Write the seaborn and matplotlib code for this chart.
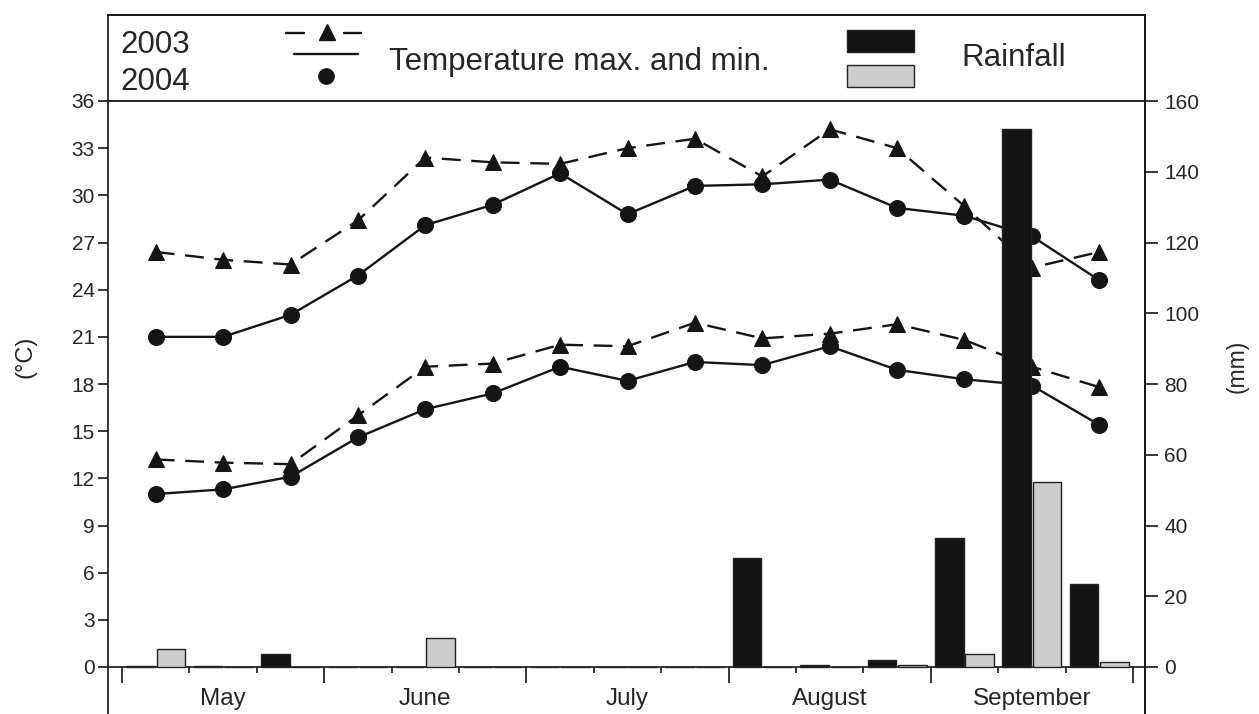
import numpy as np
import pandas as pd
import matplotlib
matplotlib.use("Agg")
import matplotlib.pyplot as plt
import seaborn as sns
from matplotlib.lines import Line2D
from matplotlib.patches import Rectangle

# ---------------- data (ten-day periods, 3 per month) ----------------
months = ["May", "June", "July", "August", "September"]
dekad = np.arange(15)
years = ["2003", "2004"]

tmax_2003 = [26.4, 25.9, 25.6, 28.4, 32.4, 32.1, 32.0, 33.0, 33.6, 31.2, 34.2, 33.0, 29.3, 25.4, 26.4]
tmax_2004 = [21.0, 21.0, 22.4, 24.9, 28.1, 29.4, 31.4, 28.8, 30.6, 30.7, 31.0, 29.2, 28.7, 27.4, 24.6]
tmin_2003 = [13.2, 13.0, 12.9, 16.0, 19.1, 19.3, 20.5, 20.4, 21.9, 20.9, 21.2, 21.8, 20.8, 19.1, 17.8]
tmin_2004 = [11.0, 11.3, 12.1, 14.6, 16.4, 17.4, 19.1, 18.2, 19.4, 19.2, 20.4, 18.9, 18.3, 17.9, 15.4]

rain_2003 = [0.4, 0.4, 3.6, 0, 0, 0, 0, 0, 0, 30.8, 0.5, 2.1, 36.5, 152.0, 23.4]
rain_2004 = [5.1, 0, 0, 0, 8.3, 0, 0, 0, 0, 0, 0, 0.5, 3.6, 52.3, 1.5]

temp_ticks = list(range(0, 37, 3))
rain_ticks = list(range(0, 161, 20))

# ---------------- styling ----------------
W, H = 1259, 714
sns.set_style("ticks")
plt.rcParams["font.family"] = ["Liberation Sans", "DejaVu Sans"]
ink = "#151515"
txt = "#262626"

fig = plt.figure(figsize=(W / 100, H / 100), dpi=100)

# axes frame in pixels (the frame continues below the bottom edge)
L, R, T, B = 108, 1145, 15, 716
ax = fig.add_axes([L / W, 1 - B / H, (R - L) / W, (B - T) / H])
ppd = (667 - 101) / 36.0
ylo = -(B - 667) / ppd
yhi = 36 + (101 - T) / ppd
ppx = (1133 - 122) / 15.0
xlo = -(122 - L) / ppx
xhi = 15 + (R - 1133) / ppx

pos = dekad + 0.5

# temperature lines
kw = dict(ax=ax, color=ink, markeredgecolor=ink, linewidth=1.7, legend=False)
sns.lineplot(x=pos, y=tmax_2003, marker="^", markersize=12, linestyle=(0, (8, 4.5)), **kw)
sns.lineplot(x=pos, y=tmin_2003, marker="^", markersize=12, linestyle=(0, (8, 4.5)), **kw)
sns.lineplot(x=pos, y=tmax_2004, marker="o", markersize=11.5, linestyle="-", **kw)
sns.lineplot(x=pos, y=tmin_2004, marker="o", markersize=11.5, linestyle="-", **kw)

ax.axhline(36, color=ink, lw=1.3, zorder=5)

# rainfall bars on the right axis
ax2 = ax.twinx()
df_rain = pd.DataFrame({
    "pos": np.concatenate([pos, pos]),
    "rain": rain_2003 + rain_2004,
    "year": [years[0]] * 15 + [years[1]] * 15,
})
sns.barplot(data=df_rain, x="pos", y="rain", hue="year", hue_order=years,
            palette={"2003": "#141414", "2004": "#cdcdcd"}, native_scale=True,
            width=0.9, gap=0.06, edgecolor="#222222", linewidth=1.0,
            errorbar=None, legend=False, ax=ax2)

# ---------------- axes ----------------
ax.set_xlim(xlo, xhi)
ax2.set_xlim(xlo, xhi)
ax.set_ylim(ylo, yhi)
ax2.set_ylim(ylo * 160 / 36, yhi * 160 / 36)

for a in (ax, ax2):
    for s in a.spines.values():
        s.set_linewidth(1.2)
        s.set_color(ink)
ax.spines["bottom"].set_position(("data", 0))
ax2.spines["bottom"].set_visible(False)
ax2.spines["left"].set_visible(False)

ax.set_yticks(temp_ticks)
ax.tick_params(axis="y", direction="out", length=7.5, width=1.2, color=ink,
               pad=2, labelsize=15, labelcolor=txt)
ax2.set_yticks(rain_ticks)
ax2.tick_params(axis="y", direction="out", length=9, width=1.2, color=ink,
                pad=5, labelsize=15, labelcolor=txt)

ax.set_xticks(np.arange(16))
ax.set_xticklabels([])
ax.set_xticks(np.arange(1.5, 15, 3), minor=True)
ax.set_xticklabels(months, minor=True)
ax.tick_params(axis="x", which="major", direction="out", length=4.5, width=1.2, color=ink)
ax.tick_params(axis="x", which="minor", length=0, pad=15, labelsize=17.5, labelcolor=txt)
for i, t in enumerate(ax.xaxis.get_major_ticks()):
    if i % 3 == 0:
        t.tick1line.set_markersize(11.5)

ax.set_xlabel("")
ax2.set_xlabel("")
ax.set_ylabel("(°C)", fontsize=17, color=txt)
ax.yaxis.set_label_coords((37 - L) / (R - L), (B - 357) / (B - T))
ax2.set_ylabel("(mm)", fontsize=16.5, color=txt, rotation=90)
ax2.yaxis.set_label_coords((1226 - L) / (R - L), (B - 366) / (B - T))

# ---------------- legend panel ----------------
def fx(x):
    return x / W

def fy(y):
    return 1 - y / H

fs_leg = 22.5
fig.text(fx(120), fy(53), "2003", fontsize=fs_leg, color=txt, ha="left", va="baseline")
fig.text(fx(120), fy(90), "2004", fontsize=fs_leg, color=txt, ha="left", va="baseline")
fig.text(fx(389), fy(70), "Temperature max. and min.", fontsize=fs_leg, color=txt,
         ha="left", va="baseline")
fig.text(fx(961), fy(66.5), "Rainfall", fontsize=fs_leg, color=txt, ha="left", va="baseline")

for xa, xb in ((286, 304), (344, 361)):
    fig.add_artist(Line2D([fx(xa), fx(xb)], [fy(33), fy(33)], color=ink, lw=1.7))
fig.add_artist(Line2D([fx(327)], [fy(32)], marker="^", markersize=12, color=ink, ls="none"))
fig.add_artist(Line2D([fx(294), fx(358)], [fy(54), fy(54)], color=ink, lw=1.7))
fig.add_artist(Line2D([fx(326)], [fy(75.5)], marker="o", markersize=11, color=ink, ls="none"))
fig.add_artist(Rectangle((fx(847), fy(51.5)), fx(914) - fx(847), fy(29.5) - fy(51.5),
                         facecolor="#141414", edgecolor="#222222", lw=1.0,
                         transform=fig.transFigure))
fig.add_artist(Rectangle((fx(847), fy(86.5)), fx(914) - fx(847), fy(65) - fy(86.5),
                         facecolor="#cdcdcd", edgecolor="#222222", lw=1.0,
                         transform=fig.transFigure))

fig.savefig("out.png", dpi=100)
